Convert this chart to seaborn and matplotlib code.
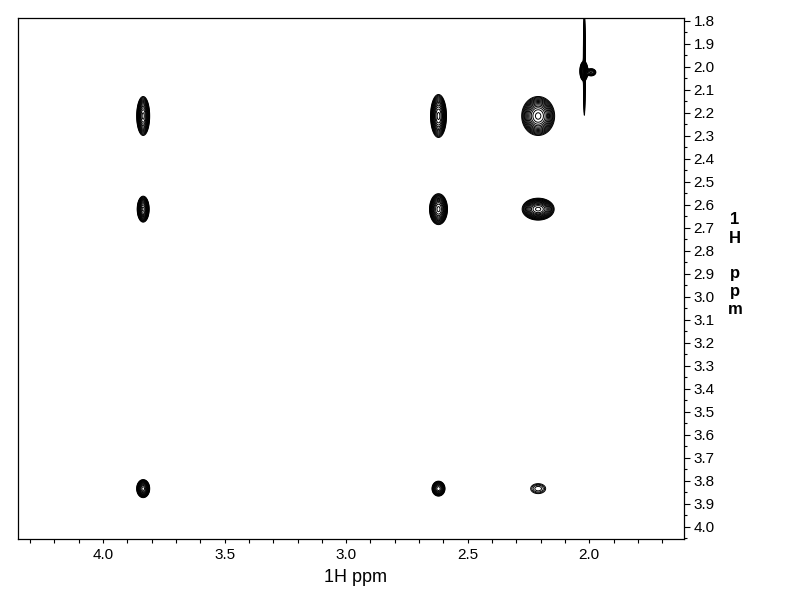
import numpy as np
import matplotlib
matplotlib.use("Agg")
import matplotlib.pyplot as plt
from matplotlib.ticker import MultipleLocator, FormatStrFormatter
import seaborn as sns

# ---- data: 2D 1H-1H correlation peaks (ppm) ----
peak_x = [3.835, 3.835, 3.835, 2.62, 2.62, 2.62, 2.21, 2.21, 2.21, 2.02, 2.022, 1.992]
peak_y = [2.215, 2.62, 3.835, 2.215, 2.62, 3.835, 2.215, 2.62, 3.835, 1.99, 2.02, 2.025]
peak_sx = [0.0101, 0.0093, 0.0105, 0.0124, 0.0140, 0.0113, 0.0256, 0.0249, 0.0220, 0.0018, 0.0070, 0.0100]
peak_sy = [0.0320, 0.0213, 0.0153, 0.0353, 0.0254, 0.0137, 0.0320, 0.0180, 0.0155, 0.1000, 0.0180, 0.0080]
peak_amp = [1.0, 1.0, 0.8, 1.0, 1.0, 0.5, 1.0, 1.0, 0.08, 0.35, 0.5, 0.2]

contour_levels = [0.03 * 1.3 ** k for k in range(14)]

x_ticks_major = 0.5
x_ticks_minor = 0.1
y_ticks_major = 0.1
y_ticks_minor = 0.05
x_label = "1H ppm"
y_label_chars = ["1", "H", "p", "p", "m"]

# ---- style ----
sns.set_theme(style="ticks")
plt.rcParams["font.family"] = ["Liberation Sans", "DejaVu Sans"]

fig = plt.figure(figsize=(7.92, 6.12), dpi=100)
ax = fig.add_axes([18 / 792, 1 - 539 / 612, (684 - 18) / 792, (539 - 18) / 612])

xlim = (4.35, 1.61)
ylim = (4.054, 1.789)

gx = np.arange(xlim[1], xlim[0], 0.001)
gy = np.arange(ylim[1], ylim[0], 0.002)
X, Y = np.meshgrid(gx, gy)
Z = np.zeros_like(X)
for px, py, sx, sy, a in zip(peak_x, peak_y, peak_sx, peak_sy, peak_amp):
    Z += a * np.exp(-0.5 * (((X - px) / sx) ** 2 + ((Y - py) / sy) ** 2))

ax.contour(X, Y, Z, levels=contour_levels, colors="black", linewidths=0.7)

ax.set_xlim(*xlim)
ax.set_ylim(*ylim)
ax.set_facecolor("white")
for s in ax.spines.values():
    s.set_visible(True)
    s.set_color("black")
    s.set_linewidth(0.9)

ax.xaxis.set_major_locator(MultipleLocator(x_ticks_major))
ax.xaxis.set_minor_locator(MultipleLocator(x_ticks_minor))
ax.xaxis.set_major_formatter(FormatStrFormatter("%.1f"))
ax.yaxis.tick_right()
ax.yaxis.set_major_locator(MultipleLocator(y_ticks_major))
ax.yaxis.set_minor_locator(MultipleLocator(y_ticks_minor))
ax.yaxis.set_major_formatter(FormatStrFormatter("%.1f"))

ax.tick_params(axis="x", which="both", direction="out", bottom=True, top=False,
               color="black", width=0.8, labelsize=11, labelcolor="black", pad=3)
ax.tick_params(axis="x", which="major", length=3.2)
ax.tick_params(axis="x", which="minor", length=2.6)
ax.tick_params(axis="y", which="both", direction="out", right=True, left=False,
               labelright=True, labelleft=False,
               color="black", width=0.8, labelsize=11, labelcolor="black", pad=3)
ax.tick_params(axis="y", which="major", length=4)
ax.tick_params(axis="y", which="minor", length=2.5)
ax.grid(False)

fig.text(356 / 792, 1 - 577 / 612, x_label, ha="center", va="center",
         fontsize=13, color="black")

baselines = [224, 243, 278, 296, 314]
for ch, b in zip(y_label_chars, baselines):
    fig.text(735 / 792, 1 - b / 612, ch, ha="center", va="baseline",
             fontsize=12, fontweight="bold", color="black")

fig.savefig("out.png", dpi=100, facecolor="white")
